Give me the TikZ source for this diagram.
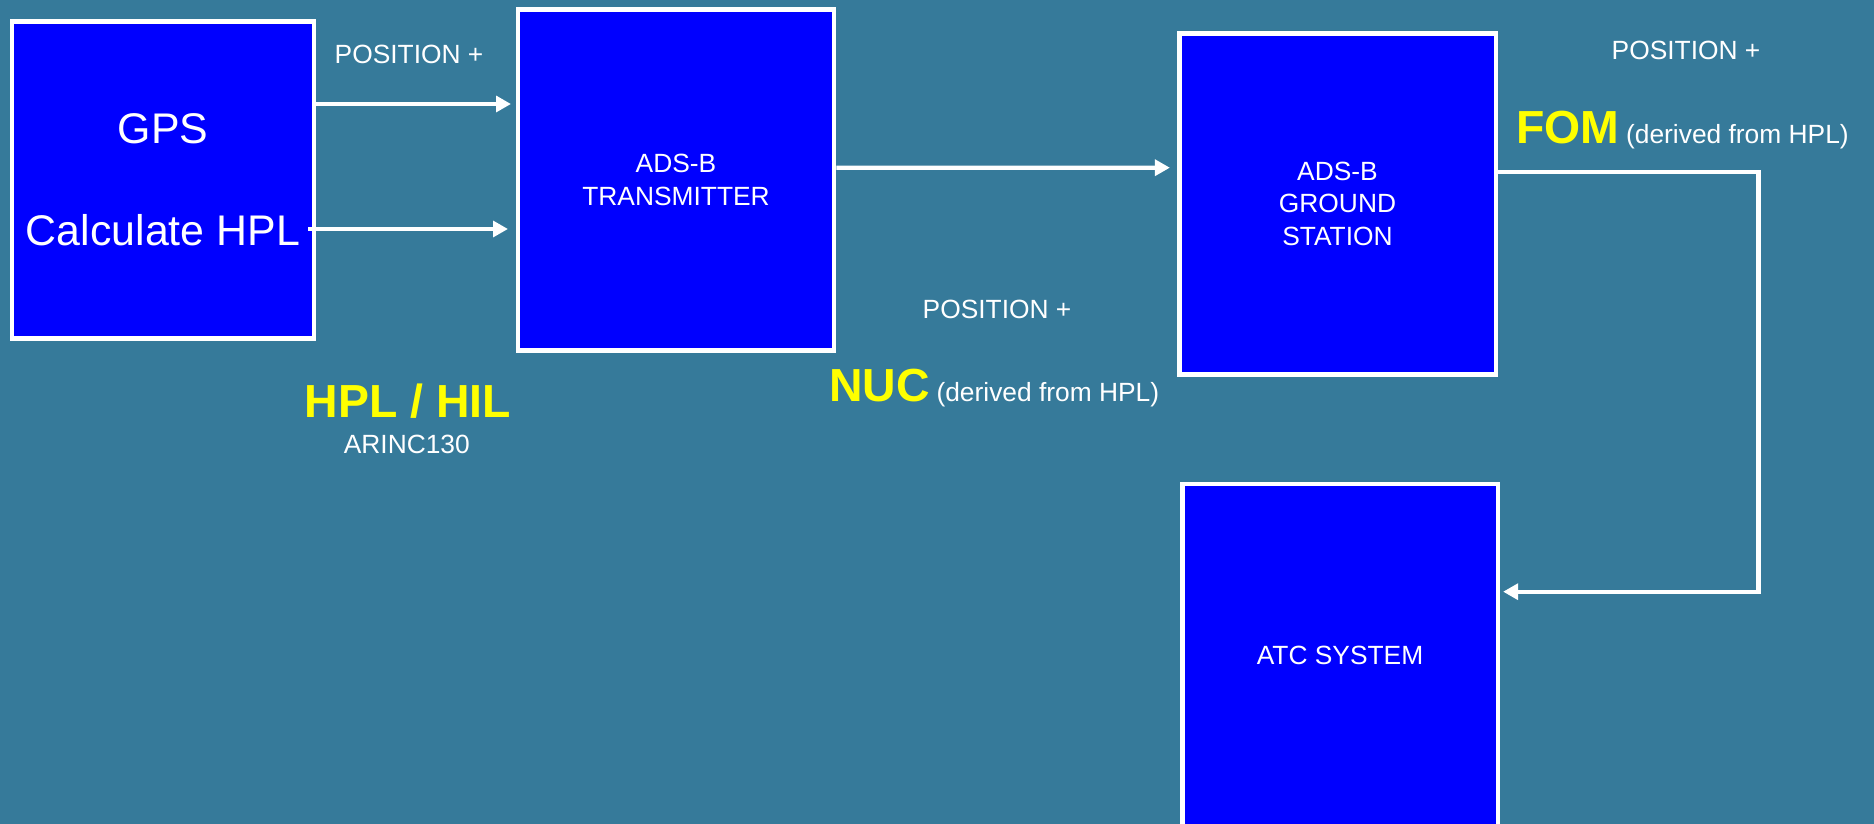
\documentclass[tikz,border=0pt]{standalone}
\usepackage{fontspec}
\setmainfont{Liberation Sans}
\usepackage{tikz}
\usetikzlibrary{arrows.meta,positioning,calc}
\definecolor{slide}{RGB}{54,122,154}
\definecolor{boxblue}{RGB}{0,0,255}
\definecolor{hilite}{RGB}{255,255,0}

\begin{document}
\begin{tikzpicture}[
  x=0.02cm, y=-0.02cm,
  box/.style={draw=white, line width=2.8pt, fill=boxblue, text=white, align=center, inner sep=0pt},
  small/.style={font=\fontsize{15pt}{18.3pt}\selectfont},
  big/.style={font=\fontsize{24.4pt}{57.8pt}\selectfont},
  key/.style={font=\fontsize{26.4pt}{30pt}\selectfont\bfseries, text=hilite, inner sep=0pt},
  lbl/.style={small, text=white, inner sep=0pt, align=center},
  arr/.style={-{Triangle[length=8.5pt,width=9pt]}, white, line width=2.5pt}
]
% --- slide background ---
\useasboundingbox (0,0) rectangle (1874,824);
\fill[slide] (0,0) rectangle (1874,824);
% --- blocks ---
\node[box, big, minimum width=6.04cm, minimum height=6.34cm]   (gps) at (163,180)      {GPS\\Calculate HPL};
\node[box, small, minimum width=6.32cm, minimum height=6.81cm] (tx)  at (676,180)      {ADS-B\\TRANSMITTER};
\node[box, small, minimum width=6.34cm, minimum height=6.82cm] (gs)  at (1337.5,203.8) {ADS-B\\GROUND\\STATION};
\node[box, small, minimum width=6.32cm, minimum height=6.84cm] (atc) at (1340,655)     {ATC SYSTEM};
% --- labels ---
\node[lbl, anchor=base] (pos1) at (409,64)    {POSITION +};
\node[key, anchor=base] (hpl)  at (407.7,417.3) {HPL / HIL};
\node[lbl, anchor=base] (arinc) at (406.8,453.3) {ARINC130};
\node[lbl, anchor=base] (pos2) at (997,318.3) {POSITION +};
\node[key, anchor=base west] (nuc) at (829,401.7) {NUC};
\node[lbl, anchor=base west] (nucsrc) at ($(nuc.base east)+(6,0)$) {(derived from HPL)};
\node[lbl, anchor=base] (pos3) at (1686,60)   {POSITION +};
\node[key, anchor=base west] (fom) at (1516,144) {FOM};
\node[lbl, anchor=base west] (fomsrc) at ($(fom.base east)+(6,0)$) {(derived from HPL)};
% --- data flow ---
\draw[arr] ($(gps.east)+(0,-76)$) -- ($(tx.west)+(-4.6,-76)$);
\draw[arr] ($(gps.east)+(-8,49)$) -- ($(tx.west)+(-7.6,49)$);
\draw[arr] ($(tx.east)+(0,-12.3)$) -- ($(gs.west)+(-6.7,-36.1)$);
\draw[arr] ($(gs.east)+(0,-32.1)$) -- ++(260,0) |- ($(atc.east)+(2.7,-63.3)$);
\end{tikzpicture}
\end{document}
